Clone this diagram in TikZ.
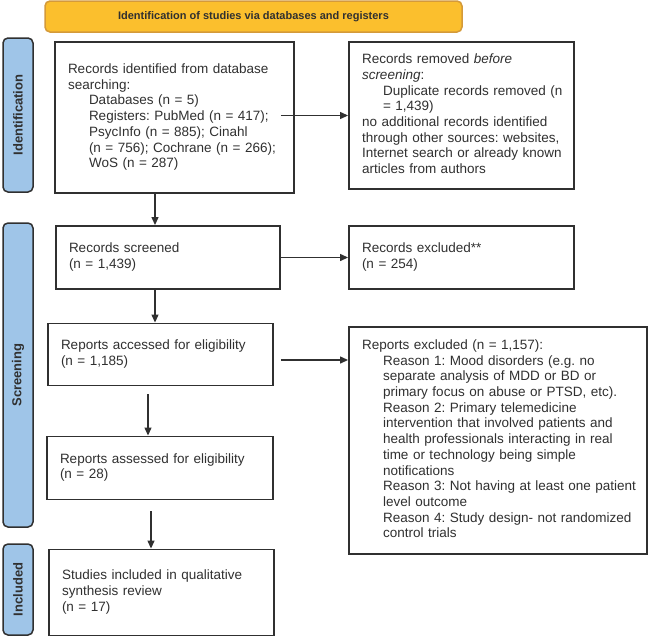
\documentclass[tikz,border=0pt]{standalone}
\usepackage{fontspec}
\setmainfont{Liberation Sans}
\usetikzlibrary{arrows.meta}
\definecolor{txt}{HTML}{303030}
\definecolor{bord}{HTML}{303030}
\definecolor{gold}{HTML}{FBBF2D}
\definecolor{goldb}{HTML}{D49A3A}
\definecolor{sideblue}{HTML}{9FC5E8}
\newcommand{\indt}{\hspace*{21pt}}
\tikzset{
  box/.style={draw=bord, line width=1.9pt, fill=white, inner xsep=13pt, inner ysep=0pt,
    text=txt, font=\frenchspacing\fontsize{13.5}{15.7}\selectfont, align=left},
  side/.style={draw=bord, line width=1.5pt, fill=sideblue, rounded corners=5pt,
    minimum height=30pt, inner sep=0pt, text=txt, font=\bfseries\fontsize{13}{15}\selectfont},
  banner/.style={draw=goldb, line width=1.5pt, fill=gold, rounded corners=5pt, inner sep=0pt,
    text=txt, font=\bfseries\fontsize{11}{14}\selectfont},
  arr/.style={draw=txt, line width=1.3pt, -{Triangle[width=7pt,length=8pt]}}
}
\begin{document}
\frenchspacing
\begin{tikzpicture}[x=1pt,y=1pt]
\useasboundingbox (0,0) rectangle (648,-637);
% banner
\node[banner, minimum width=417pt, minimum height=31pt] (ban) at (253.5,-16.5)
  {Identification of studies via databases and registers};
% side bars
\node[side, rotate=90, minimum width=154pt] (sid) at (18,-115) {Identification};
\node[side, rotate=90, minimum width=304pt] (ssc) at (18,-375) {Screening};
\node[side, rotate=90, minimum width=91pt] (sin) at (18,-589.5) {Included};
% boxes
\node[box, minimum width=239pt, minimum height=151pt, text width=213pt] (b1) at (174.5,-117.5)
  {\begin{tabular}{@{}l@{}}Records identified from database\\ searching:\\
   \indt Databases (n = 5)\\ \indt Registers: PubMed (n = 417);\\
   \indt PsycInfo (n = 885); Cinahl\\ \indt (n = 756); Cochrane (n = 266);\\
   \indt WoS (n = 287)\end{tabular}};
\node[box, minimum width=225pt, minimum height=147pt, text width=199pt] (rem) at (461.5,-115.5)
  {\begin{tabular}{@{}l@{}}Records removed \textit{before}\\ \textit{screening}:\\
   \indt Duplicate records removed (n\\ \indt = 1,439)\\
   no additional records identified\\ through other sources: websites,\\
   Internet search or already known\\ articles from authors\end{tabular}};
\node[box, minimum width=224pt, minimum height=63pt, text width=198pt] (scr) at (168,-257.5)
  {\begin{tabular}{@{}l@{}}Records screened\\ (n = 1,439)\end{tabular}};
\node[box, minimum width=225pt, minimum height=63pt, text width=199pt] (exc) at (461.5,-257.5)
  {\begin{tabular}{@{}l@{}}Records excluded**\\ (n = 254)\end{tabular}};
\node[box, minimum width=225pt, minimum height=62pt, text width=199pt] (acc) at (160.5,-354.5)
  {\begin{tabular}{@{}l@{}}Reports accessed for eligibility\\ (n = 1,185)\end{tabular}};
\node[box, minimum width=298pt, minimum height=227pt, text width=272pt] (rex) at (498,-440.5)
  {\begin{tabular}{@{}l@{}}Reports excluded (n = 1,157):\\
   \indt Reason 1: Mood disorders (e.g. no\\
   \indt separate analysis of MDD or BD or\\
   \indt primary focus on abuse or PTSD, etc).\\
   \indt Reason 2: Primary telemedicine\\
   \indt intervention that involved patients and\\
   \indt health professionals interacting in real\\
   \indt time or technology being simple\\
   \indt notifications\\
   \indt Reason 3: Not having at least one patient\\
   \indt level outcome\\
   \indt Reason 4: Study design- not randomized\\
   \indt control trials\end{tabular}};
\node[box, minimum width=226pt, minimum height=63pt, text width=200pt] (ass) at (160,-468)
  {\begin{tabular}{@{}l@{}}Reports assessed for eligibility\\ (n = 28)\end{tabular}};
\node[box, minimum width=225pt, minimum height=86pt, text width=199pt] (stu) at (161.5,-592.5)
  {\begin{tabular}{@{}l@{}}Studies included in qualitative\\ synthesis review\\ (n = 17)\end{tabular}};
% helper coordinates
\coordinate (xa) at (155,0);
\coordinate (xb) at (148,0);
\coordinate (xc) at (151,0);
\coordinate (ya) at (0,-360);
% connectors
\draw[arr] (b1.south -| xa) -- (scr.north -| xa);
\draw[arr] ([xshift=-14pt]b1.east |- rem.west) -- (rem.west);
\draw[arr] (scr.east) -- (exc.west);
\draw[arr] (scr.south -| xa) -- (acc.north -| xa);
\draw[arr] ([xshift=7pt]acc.east |- ya) -- (rex.west |- ya);
\draw[arr] ([yshift=-8pt]acc.south -| xb) -- (ass.north -| xb);
\draw[arr] ([yshift=-11pt]ass.south -| xc) -- (stu.north -| xc);
\end{tikzpicture}
\end{document}
